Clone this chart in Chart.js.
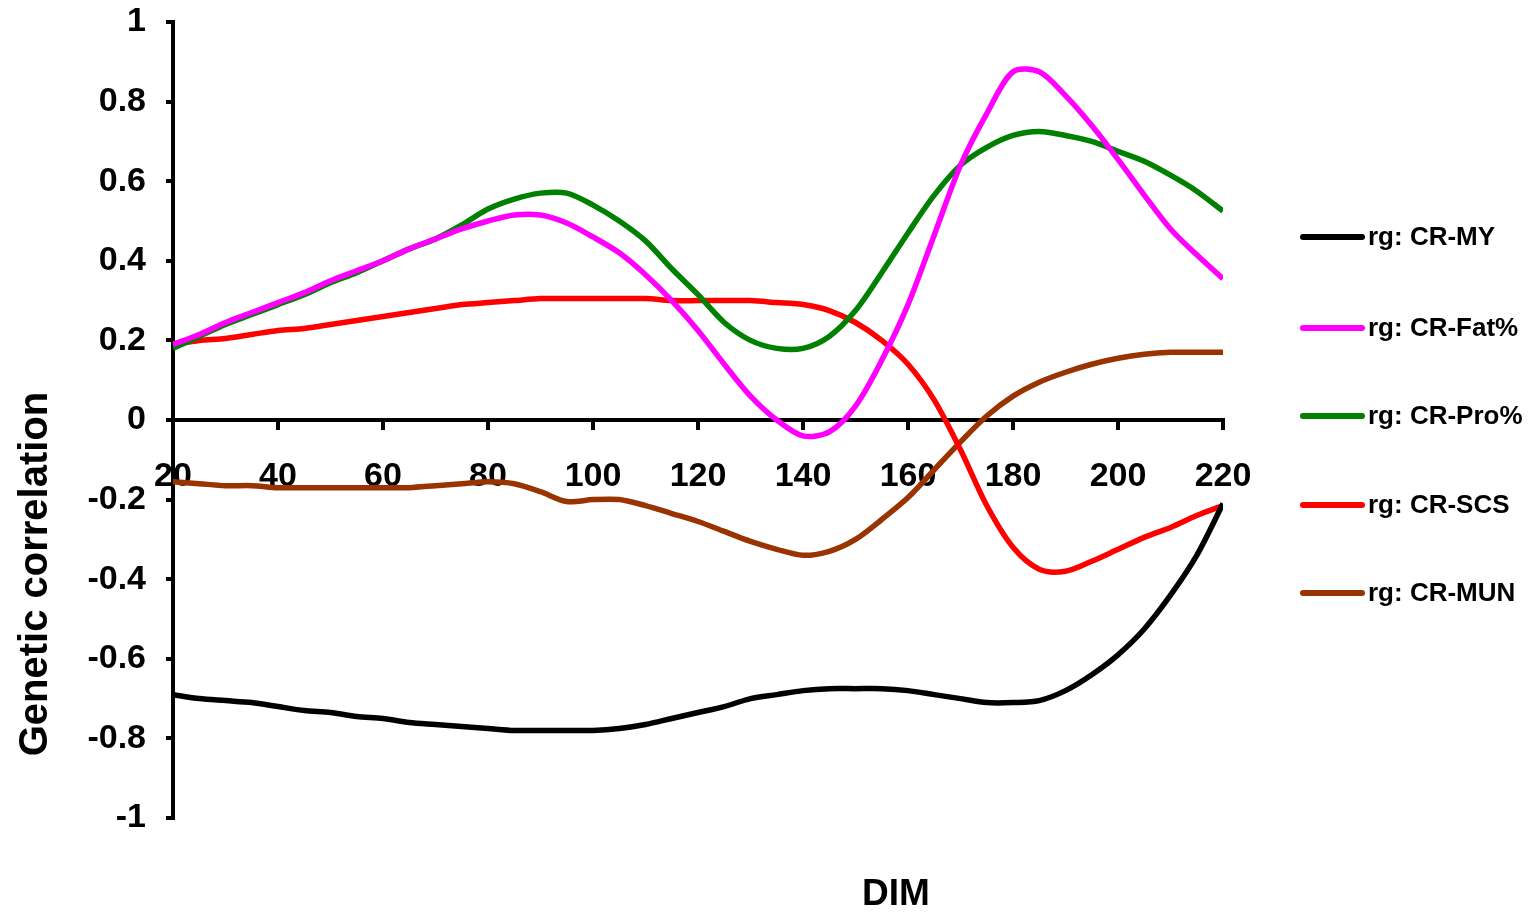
<!DOCTYPE html>
<html>
<head>
<meta charset="utf-8">
<script src="https://cdn.jsdelivr.net/npm/chart.js@4.4.0/dist/chart.umd.min.js"></script>
<style>
  html, body { margin: 0; padding: 0; background: #fff; }
  #wrap { width: 1533px; height: 914px; position: relative; }
</style>
</head>
<body>
<div id="wrap"><canvas id="myChart"></canvas></div>
<script>
// DIM from 20 to 220 every 5 days
const dim = [20, 25, 30, 35, 40, 45, 50, 55, 60, 65, 70, 75, 80, 85, 90, 95, 100,
  105, 110, 115, 120, 125, 130, 135, 140, 145, 150, 155, 160, 165, 170, 175, 180,
  185, 190, 195, 200, 205, 210, 215, 220];

const rgMY = [-0.69, -0.70, -0.705, -0.71, -0.72, -0.73, -0.735, -0.745, -0.75, -0.76,
  -0.765, -0.77, -0.775, -0.78, -0.78, -0.78, -0.78, -0.775, -0.765, -0.75, -0.735,
  -0.72, -0.70, -0.69, -0.68, -0.675, -0.675, -0.675, -0.68, -0.69, -0.70, -0.71,
  -0.71, -0.705, -0.68, -0.64, -0.59, -0.525, -0.44, -0.34, -0.21];

const rgFat = [0.19, 0.215, 0.245, 0.27, 0.295, 0.32, 0.35, 0.375, 0.40, 0.43, 0.455,
  0.48, 0.50, 0.515, 0.515, 0.495, 0.46, 0.42, 0.365, 0.30, 0.225, 0.14, 0.06, 0.0,
  -0.04, -0.03, 0.035, 0.15, 0.29, 0.465, 0.64, 0.77, 0.875, 0.875, 0.815, 0.74,
  0.655, 0.565, 0.48, 0.415, 0.355];

const rgPro = [0.18, 0.21, 0.24, 0.265, 0.29, 0.315, 0.345, 0.37, 0.40, 0.43, 0.455,
  0.49, 0.53, 0.555, 0.57, 0.57, 0.54, 0.50, 0.45, 0.38, 0.315, 0.245, 0.20, 0.18,
  0.18, 0.21, 0.275, 0.37, 0.47, 0.565, 0.64, 0.685, 0.715, 0.725, 0.715, 0.70,
  0.675, 0.65, 0.615, 0.575, 0.525];

const rgSCS = [0.19, 0.20, 0.205, 0.215, 0.225, 0.23, 0.24, 0.25, 0.26, 0.27, 0.28,
  0.29, 0.295, 0.30, 0.305, 0.305, 0.305, 0.305, 0.305, 0.30, 0.30, 0.30, 0.30,
  0.295, 0.29, 0.275, 0.245, 0.20, 0.14, 0.05, -0.075, -0.215, -0.32, -0.375,
  -0.38, -0.355, -0.325, -0.295, -0.27, -0.24, -0.215];

const rgMUN = [-0.155, -0.16, -0.165, -0.165, -0.17, -0.17, -0.17, -0.17, -0.17,
  -0.17, -0.165, -0.16, -0.155, -0.16, -0.18, -0.205, -0.20, -0.20, -0.215, -0.235,
  -0.255, -0.28, -0.305, -0.325, -0.34, -0.33, -0.30, -0.25, -0.195, -0.125, -0.055,
  0.01, 0.06, 0.095, 0.12, 0.14, 0.155, 0.165, 0.17, 0.17, 0.17];

const seriesNames = ["rg: CR-MY", "rg: CR-Fat%", "rg: CR-Pro%", "rg: CR-SCS", "rg: CR-MUN"];
const seriesColors = ["#000000", "#ff00ff", "#008000", "#ff0000", "#993300"];
const seriesValues = [rgMY, rgFat, rgPro, rgSCS, rgMUN];

const FONT = "'Liberation Sans', Arial, Helvetica, sans-serif";

const datasets = seriesNames.map((name, i) => ({
  label: name,
  data: dim.map((d, k) => ({ x: d, y: seriesValues[i][k] })),
  borderColor: seriesColors[i],
  backgroundColor: seriesColors[i],
  borderWidth: 5.5,
  pointRadius: 0,
  tension: 0.3,
  fill: false,
}));

// legend + axis titles drawn by hand to sit where the original puts them
const extras = {
  id: "extras",
  afterDraw(chart) {
    const c = chart.ctx;
    c.save();
    c.fillStyle = "#000";
    c.textBaseline = "middle";
    c.textAlign = "left";
    c.font = "bold 26px " + FONT;
    const ys = [237, 328, 416, 505, 593];
    chart.data.datasets.forEach((ds, i) => {
      c.strokeStyle = ds.borderColor;
      c.lineWidth = 6;
      c.lineCap = "round";
      c.beginPath();
      c.moveTo(1303, ys[i]);
      c.lineTo(1362, ys[i]);
      c.stroke();
      c.fillText(ds.label, 1368, ys[i] + 1);
    });

    c.textAlign = "center";
    c.font = "bold 37px " + FONT;
    c.fillText("DIM", 896, 895);

    c.translate(36, 574);
    c.rotate(-Math.PI / 2);
    c.font = "bold 40px " + FONT;
    c.fillText("Genetic correlation", 0, 0);
    c.restore();
  }
};

const ctx = document.getElementById("myChart").getContext("2d");
new Chart(ctx, {
  type: "line",
  data: { datasets: datasets },
  options: {
    responsive: true,
    maintainAspectRatio: false,
    animation: false,
    layout: { padding: { top: 22, right: 310, bottom: 96, left: 0 } },
    plugins: {
      legend: { display: false },
      tooltip: { enabled: false },
    },
    scales: {
      x: {
        type: "linear",
        min: 20,
        max: 220,
        position: { y: 0 },
        border: { display: true, color: "#000", width: 4 },
        grid: { drawOnChartArea: false, color: "#000", lineWidth: 4, tickLength: 8 },
        ticks: {
          stepSize: 20,
          color: "#000",
          font: { family: FONT, size: 34, weight: "bold" },
          padding: 28,
          maxRotation: 0,
          autoSkip: false,
        },
      },
      y: {
        min: -1,
        max: 1,
        afterFit(scale) {
          scale.width = 173;
          scale.paddingTop = 0;
          scale.paddingBottom = 0;
        },
        border: { display: true, color: "#000", width: 4 },
        grid: { drawOnChartArea: false, color: "#000", lineWidth: 4, tickLength: 7 },
        ticks: {
          stepSize: 0.2,
          color: "#000",
          font: { family: FONT, size: 34, weight: "bold" },
          padding: 20,
          callback: (v) => Math.round(v * 10) / 10,
        },
      },
    },
  },
  plugins: [extras],
});
</script>
</body>
</html>
